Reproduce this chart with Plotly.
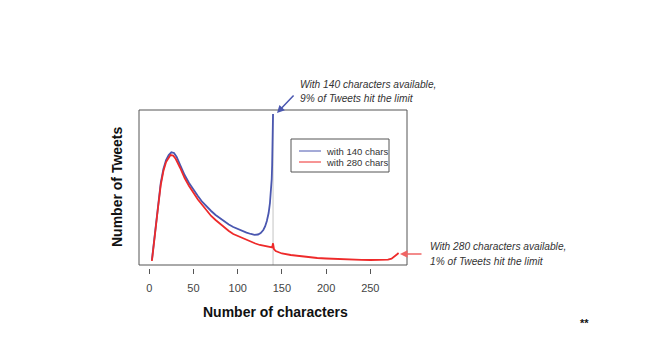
import plotly.graph_objects as go

# ---- data ----
blue_x = [3, 5, 8, 10, 13, 16, 19, 22, 25, 28, 31, 35, 40, 45, 50, 55, 60, 65, 70, 75, 80,
          85, 90, 95, 100, 105, 110, 115, 119, 123, 126, 129, 131, 133, 135, 136.5, 137.5,
          138.5, 139, 139.5, 140]
blue_y = [5, 20, 42, 60, 82, 96, 105, 110, 112.7, 112, 108, 100, 90, 82, 75, 69, 63, 58, 54,
          50, 46.7, 43.5, 40.5, 38, 36, 34, 32.3, 31, 30.2, 30.5, 32, 35, 38.5, 44, 52, 62,
          72, 86, 100, 125, 151]

red_x = [3, 5, 8, 10, 13, 16, 19, 22, 24, 27, 30, 35, 40, 45, 50, 55, 60, 65, 70, 75, 80, 85,
         90, 95, 100, 105, 110, 115, 120, 125, 130, 135, 139, 140, 141, 143, 150, 160, 170,
         180, 190, 200, 210, 220, 230, 240, 250, 260, 265, 270, 274, 277, 280, 282]
red_y = [4, 18, 40, 58, 80, 94, 103, 108, 110, 109.5, 106, 97, 87, 79, 72, 65.5, 60, 54, 49,
         45, 41, 37, 34, 31, 29, 27, 25, 23, 21.5, 20, 19, 18, 17.5, 21.7, 16, 14, 11.5, 10,
         8.8, 7.8, 7, 6.5, 6, 5.7, 5.4, 5.2, 5, 5, 5, 5.3, 6.3, 8, 10.5, 12]

x_ticks = [0, 50, 100, 150, 200, 250]
series_names = ["with 140 chars", "with 280 chars"]
limit_140 = 140

BLUE = "#4a57b0"
RED = "#ee2a2a"
TXT = "#333333"
FONT = "Liberation Sans, Arial, sans-serif"

W, H = 659, 352
L, R, T, B = 139, 407, 110, 268  # plot area in pixels


def px(x):
    return (x - L) / (R - L)


def py(y):
    return (B - y) / (B - T)


fig = go.Figure()
# light grey drop line at 140
fig.add_trace(go.Scatter(x=[limit_140, limit_140], y=[0, blue_y[-1]], mode="lines",
                         line=dict(color="#c4c4c4", width=1), showlegend=False,
                         hoverinfo="skip"))
fig.add_trace(go.Scatter(x=blue_x, y=blue_y, mode="lines", name=series_names[0],
                         line=dict(color=BLUE, width=1.8), showlegend=False))
fig.add_trace(go.Scatter(x=red_x, y=red_y, mode="lines", name=series_names[1],
                         line=dict(color=RED, width=1.8), showlegend=False))

frame_bottom = 265
ydom0 = (B - frame_bottom) / (B - T)

shapes = [
    dict(type="rect", xref="x domain", yref="y domain", x0=0, x1=1, y0=0, y1=1,
         line=dict(color="#555555", width=1), layer="above"),
    # legend box
    dict(type="rect", xref="paper", yref="paper", x0=px(291), x1=px(389), y0=py(139),
         y1=py(172), line=dict(color="#555555", width=1), fillcolor="white"),
    dict(type="line", xref="paper", yref="paper", x0=px(299), x1=px(321), y0=py(151),
         y1=py(151), line=dict(color=BLUE, width=1)),
    dict(type="line", xref="paper", yref="paper", x0=px(299), x1=px(321), y0=py(162),
         y1=py(162), line=dict(color=RED, width=1)),
]

ann = []
for name, yy in zip(series_names, [151, 162]):
    ann.append(dict(xref="paper", yref="paper", x=px(324), y=py(yy), text=name,
                    showarrow=False, xanchor="left", yanchor="middle",
                    font=dict(size=9.5, color=TXT, family=FONT)))

ann += [
    dict(xref="paper", yref="paper", x=px(298), y=py(84),
         text="<i>With 140 characters available,</i>", showarrow=False,
         xanchor="left", yanchor="middle", font=dict(size=10.2, color=TXT, family=FONT)),
    dict(xref="paper", yref="paper", x=px(298), y=py(98),
         text="<i>9% of Tweets hit the limit</i>", showarrow=False,
         xanchor="left", yanchor="middle", font=dict(size=10.2, color=TXT, family=FONT)),
    dict(xref="paper", yref="paper", x=px(428), y=py(246),
         text="<i>With 280 characters available,</i>", showarrow=False,
         xanchor="left", yanchor="middle", font=dict(size=10.2, color=TXT, family=FONT)),
    dict(xref="paper", yref="paper", x=px(428), y=py(261),
         text="<i>1% of Tweets hit the limit</i>", showarrow=False,
         xanchor="left", yanchor="middle", font=dict(size=10.2, color=TXT, family=FONT)),
    # arrows
    dict(xref="paper", yref="paper", x=px(277), y=py(113), ax=18, ay=-19, text="",
         showarrow=True, arrowhead=2, arrowsize=1, arrowwidth=1.5, arrowcolor=BLUE,
         standoff=0),
    dict(xref="paper", yref="paper", x=px(400), y=py(254), ax=23, ay=0, text="",
         showarrow=True, arrowhead=2, arrowsize=1, arrowwidth=1.5, arrowcolor="#f06565",
         standoff=0),
    # axis titles
    dict(xref="paper", yref="paper", x=px(275), y=py(312), text="<b>Number of characters</b>",
         showarrow=False, xanchor="center", yanchor="middle",
         font=dict(size=14, color="#111111", family=FONT)),
    dict(xref="paper", yref="paper", x=px(117), y=py(187), text="<b>Number of Tweets</b>",
         showarrow=False, xanchor="center", yanchor="middle", textangle=-90,
         font=dict(size=14, color="#111111", family=FONT)),
    dict(xref="paper", yref="paper", x=px(584), y=py(323), text="<b>**</b>",
         showarrow=False, xanchor="center", yanchor="middle",
         font=dict(size=11, color="#111111", family=FONT)),
]

fig.update_layout(
    width=W, height=H,
    margin=dict(l=L, r=W - R, t=T, b=H - B, pad=0),
    paper_bgcolor="white", plot_bgcolor="white",
    showlegend=False,
    xaxis=dict(range=[-11.6, 291.5], tickmode="array", tickvals=x_ticks,
               ticktext=[str(v) for v in x_ticks], ticks="outside", ticklen=5,
               tickcolor="#555555", tickwidth=1, showgrid=False, zeroline=False,
               showline=False, anchor="free", position=0, ticklabelstandoff=5,
               tickfont=dict(size=11, color="#444444", family=FONT)),
    yaxis=dict(range=[0, 155], domain=[ydom0, 1], showticklabels=False, ticks="",
               showgrid=False, zeroline=False, showline=False),
    shapes=shapes,
    annotations=ann,
)

fig.write_html("out.html")
